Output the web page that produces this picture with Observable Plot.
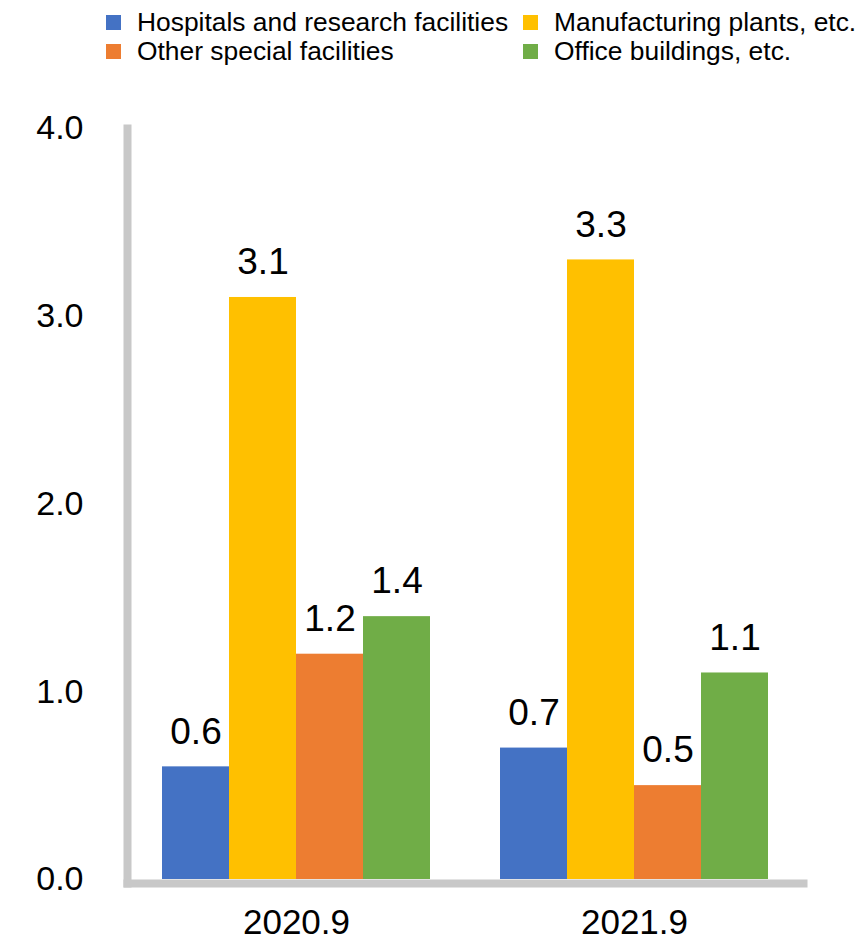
<!DOCTYPE html>
<html>
<head>
<meta charset="utf-8">
<script src="https://cdn.jsdelivr.net/npm/d3@7"></script>
<script src="https://cdn.jsdelivr.net/npm/@observablehq/plot@0.6"></script>
<style>
  body { margin: 0; background: #fff; font-family: "Liberation Sans", Arial, sans-serif; }
  #wrap { width: 859px; }
  #legend { position: relative; height: 70px; font-size: 26.4px; color: #000; }
  .item { position: absolute; display: flex; align-items: center; height: 30px; white-space: nowrap; }
  .sw { width: 15px; height: 15px; margin-right: 16px; }
</style>
</head>
<body>
<div id="wrap">
  <div id="legend"></div>
  <div id="chart"></div>
</div>
<script>
const periods = ["2020.9", "2021.9"];
const series = ["Hospitals and research facilities", "Manufacturing plants, etc.", "Other special facilities", "Office buildings, etc."];
const colors = ["#4472C4", "#FFC000", "#ED7D31", "#70AD47"];
const values2020 = [0.6, 3.1, 1.2, 1.4];
const values2021 = [0.7, 3.3, 0.5, 1.1];
const yTicks = [0, 1, 2, 3, 4];

const data = [];
series.forEach((s, i) => {
  data.push({period: periods[0], series: s, value: values2020[i]});
  data.push({period: periods[1], series: s, value: values2021[i]});
});

// Legend (two columns, two rows)
const legendPos = [[106, 7], [523, 7], [106, 36], [523, 36]];
const legend = document.getElementById("legend");
series.forEach((s, i) => {
  const it = document.createElement("div");
  it.className = "item";
  it.style.left = legendPos[i][0] + "px";
  it.style.top = legendPos[i][1] + "px";
  const sw = document.createElement("span");
  sw.className = "sw";
  sw.style.background = colors[i];
  const tx = document.createElement("span");
  tx.textContent = s;
  it.appendChild(sw);
  it.appendChild(tx);
  legend.appendChild(it);
});

const chart = Plot.plot({
  width: 859,
  height: 872,
  marginTop: 58,
  marginBottom: 63,
  marginLeft: 127,
  marginRight: 56,
  style: {fontFamily: "'Liberation Sans', Arial, sans-serif", background: "#fff", overflow: "visible"},
  fx: {domain: periods, padding: 0, label: null},
  x: {domain: series, paddingInner: 0, paddingOuter: 0.5, axis: null},
  y: {domain: [0, 4], axis: null},
  color: {domain: series, range: colors},
  marks: [
    Plot.barY(data, {fx: "period", x: "series", y: "value", fill: "series"}),
    Plot.text(data, {fx: "period", x: "series", y: "value", text: d => d.value.toFixed(1), dy: -35, fontSize: 37, fill: "#000"}),
    Plot.axisY(yTicks, {anchor: "left", tickSize: 0, tickPadding: 44, tickFormat: d => d.toFixed(1), fontSize: 34, fill: "#000", label: null}),
    Plot.axisFx({anchor: "bottom", tickSize: 0, tickPadding: 30, fontSize: 35, fill: "#000", label: null}),
    Plot.frame({anchor: "left", facet: "super", stroke: "#c8c8c8", strokeWidth: 8, insetBottom: -4}),
    Plot.frame({anchor: "bottom", facet: "super", stroke: "#c8c8c8", strokeWidth: 8, insetBottom: -4})
  ]
});
document.getElementById("chart").appendChild(chart);
</script>
</body>
</html>
